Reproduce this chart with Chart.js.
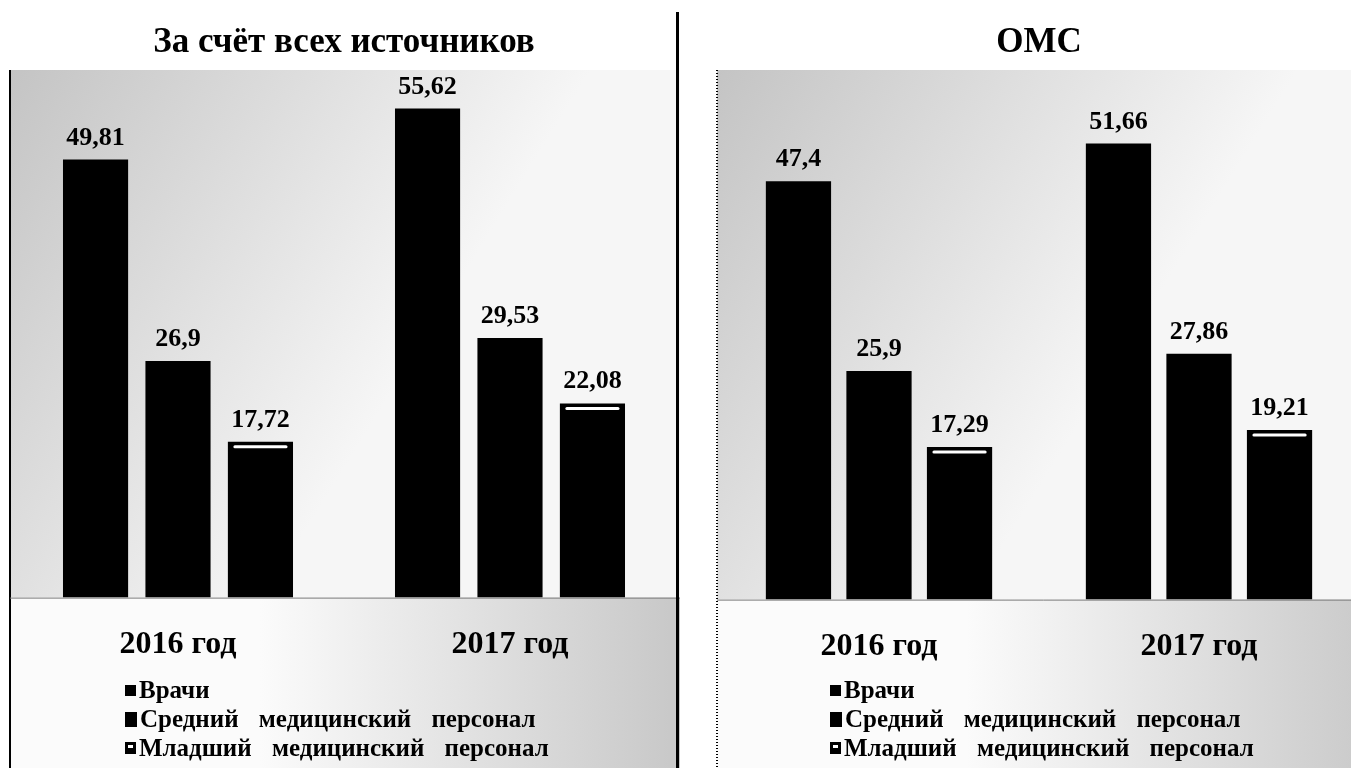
<!DOCTYPE html>
<html lang="ru">
<head>
<meta charset="utf-8">
<script src="https://cdn.jsdelivr.net/npm/chart.js@4.4.1/dist/chart.umd.min.js"></script>
<style>
  html, body { margin: 0; padding: 0; background: #fff; }
  body { width: 1351px; height: 768px; overflow: hidden; position: relative; }
  .panel { position: absolute; top: 0; height: 768px; }
  #leftPanel { left: 0; width: 680px; }
  #rightPanel { left: 680px; width: 690px; }
  .divider { position: absolute; left: 676px; top: 12px; width: 3px; height: 756px; background: #000; }
  .legend {
    position: absolute; top: 675px;
    font-family: "Liberation Serif", "DejaVu Serif", serif; font-weight: bold;
    font-size: 25px; line-height: 29px; color: #000; word-spacing: 14px;
  }
  .legend div { white-space: nowrap; }
  .mk { display: inline-block; vertical-align: middle; margin-right: 3px; position: relative; top: -2px; background: #000; }
  .mk1 { width: 11px; height: 11px; }
  .mk2 { width: 12px; height: 15px; }
  .mk3 { width: 11px; height: 12px; }
  .mk3::after { content: ""; position: absolute; left: 3px; top: 3px; width: 5px; height: 3px; background: #fff; }
</style>
</head>
<body>
<div class="panel" id="leftPanel">
  <canvas id="chartAll" width="680" height="768"></canvas>
  <div class="legend" style="left:125px">
    <div><span class="mk mk1"></span>Врачи</div>
    <div><span class="mk mk2"></span>Средний медицинский персонал</div>
    <div><span class="mk mk3"></span>Младший медицинский персонал</div>
  </div>
</div>
<div class="divider"></div>
<div class="panel" id="rightPanel">
  <canvas id="chartOms" width="690" height="768"></canvas>
  <div class="legend" style="left:150px">
    <div><span class="mk mk1"></span>Врачи</div>
    <div><span class="mk mk2"></span>Средний медицинский персонал</div>
    <div><span class="mk mk3"></span>Младший медицинский персонал</div>
  </div>
</div>
<script>
const years = ["2016 год", "2017 год"];
const seriesNames = ["Врачи", "Средний медицинский персонал", "Младший медицинский персонал"];

// За счёт всех источников
const allDoctors = [49.81, 55.62];
const allMiddle = [26.9, 29.53];
const allJunior = [17.72, 22.08];

// ОМС
const omsDoctors = [47.4, 51.66];
const omsMiddle = [25.9, 27.86];
const omsJunior = [17.29, 19.21];

const serif = "'Liberation Serif', 'DejaVu Serif', serif";

// scanned-paper look: grey plot area, frame lines
const backdrop = {
  id: "backdrop",
  beforeDraw(chart, args, opts) {
    const { ctx, chartArea: a, width, height } = chart;
    ctx.save();
    let g = ctx.createLinearGradient(opts.frameX, a.top, opts.frameX + 420, a.top + 260);
    g.addColorStop(0, "#c4c4c4");
    g.addColorStop(1, "#f6f6f6");
    ctx.fillStyle = g;
    ctx.fillRect(opts.frameX, a.top, width - opts.frameX, a.bottom - a.top);

    g = ctx.createLinearGradient(opts.frameX + 250, 0, opts.frameX + 660, 0);
    g.addColorStop(0, "#fbfbfb");
    g.addColorStop(1, "#c9c9c9");
    ctx.fillStyle = g;
    ctx.fillRect(opts.frameX, a.bottom, width - opts.frameX, height - a.bottom);

    ctx.strokeStyle = "#000";
    ctx.lineWidth = 2;
    if (opts.dotted) ctx.setLineDash([1, 2]);
    ctx.beginPath();
    ctx.moveTo(opts.frameX, a.top);
    ctx.lineTo(opts.frameX, height);
    ctx.stroke();
    ctx.setLineDash([]);

    ctx.strokeStyle = "#777";
    ctx.lineWidth = 1;
    ctx.beginPath();
    ctx.moveTo(opts.frameX, a.bottom + 0.5);
    ctx.lineTo(width, a.bottom + 0.5);
    ctx.stroke();
    ctx.restore();
  }
};

// value labels above bars + light stripe on the third series
const barLabels = {
  id: "barLabels",
  afterDatasetsDraw(chart) {
    const { ctx } = chart;
    ctx.save();
    chart.data.datasets.forEach((ds, i) => {
      const meta = chart.getDatasetMeta(i);
      meta.data.forEach((bar, j) => {
        if (i === 2) {
          ctx.strokeStyle = "#fff";
          ctx.lineWidth = 3;
          ctx.lineCap = "round";
          ctx.beginPath();
          ctx.moveTo(bar.x - bar.width / 2 + 7, bar.y + 5);
          ctx.lineTo(bar.x + bar.width / 2 - 7, bar.y + 5);
          ctx.stroke();
        }
        ctx.fillStyle = "#000";
        ctx.font = "bold 26px " + serif;
        ctx.textAlign = "center";
        ctx.textBaseline = "alphabetic";
        ctx.fillText(String(ds.data[j]).replace(".", ","), bar.x, bar.y - 15);
      });
    });
    ctx.restore();
  }
};

function makeChart(id, title, doctors, middle, junior, pad, frameX, dotted, catPct, barPct) {
  const ctx = document.getElementById(id).getContext("2d");
  const common = { backgroundColor: "#000", borderWidth: 0, categoryPercentage: catPct, barPercentage: barPct };
  return new Chart(ctx, {
    type: "bar",
    data: {
      labels: years,
      datasets: [
        { label: seriesNames[0], data: doctors, ...common },
        { label: seriesNames[1], data: middle, ...common },
        { label: seriesNames[2], data: junior, ...common },
      ],
    },
    options: {
      responsive: false,
      animation: false,
      layout: { padding: pad },
      plugins: {
        legend: { display: false },
        tooltip: { enabled: false },
        title: {
          display: true,
          text: title,
          color: "#000",
          font: { family: serif, size: 35, weight: "bold" },
          padding: { top: 22, bottom: 6 },
        },
        backdrop: { frameX: frameX, dotted: dotted },
      },
      scales: {
        x: {
          grid: { display: false },
          border: { display: false },
          ticks: { color: "#000", padding: 20, font: { family: serif, size: 32, weight: "bold" } },
        },
        y: { display: false, min: 0, max: 60 },
      },
    },
    plugins: [backdrop, barLabels],
  });
}

makeChart("chartAll", "За счёт всех источников", allDoctors, allMiddle, allJunior,
  { left: 12, right: 4, top: 0, bottom: 84 }, 10, false, 0.745, 0.79);
makeChart("chartOms", "ОМС", omsDoctors, omsMiddle, omsJunior,
  { left: 39, right: 11, top: 0, bottom: 82 }, 37, true, 0.755, 0.81);
</script>
</body>
</html>
